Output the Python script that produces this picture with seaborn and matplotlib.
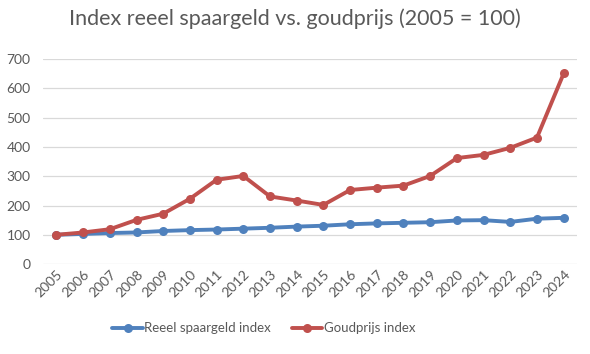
import pandas as pd
import matplotlib
matplotlib.use("Agg")
import matplotlib.pyplot as plt
import seaborn as sns

years = [str(y) for y in range(2005, 2025)]
spaargeld = [100, 103, 106, 108, 113, 116, 118, 121, 124, 128,
             131, 136, 139, 141, 143, 149, 150, 144, 155, 158]
goud = [100, 108, 119, 151, 172, 223, 288, 301, 231, 217,
        202, 253, 261, 268, 301, 362, 373, 397, 432, 651]
series_names = ["Reeel spaargeld index", "Goudprijs index"]
yticks = [0, 100, 200, 300, 400, 500, 600, 700]

df = pd.DataFrame({
    "jaar": years * 2,
    "waarde": spaargeld + goud,
    "reeks": [series_names[0]] * len(years) + [series_names[1]] * len(years),
})

sns.set_style("white")
plt.rcParams["font.family"] = ["Lato", "DejaVu Sans"]
grey = "#595959"

fig = plt.figure(figsize=(5.9, 3.54), dpi=100)
ax = fig.add_axes([0.073, 0.254, 0.905, 0.579])

sns.lineplot(data=df, x="jaar", y="waarde", hue="reeks",
             palette=["#4F81BD", "#C0504D"], linewidth=2.8,
             marker="o", markersize=6.5, markeredgewidth=0, ax=ax)

ax.set_ylim(0, 700)
ax.set_xlim(-0.5, len(years) - 0.5)
ax.set_yticks(yticks)
ax.yaxis.grid(True, color="#D9D9D9", linewidth=0.9)
ax.set_axisbelow(True)
for s in ax.spines.values():
    s.set_visible(False)
ax.tick_params(axis="both", length=0, colors=grey, labelsize=10)
ax.tick_params(axis="y", pad=9)
ax.tick_params(axis="x", pad=3)
plt.setp(ax.get_xticklabels(), rotation=45, ha="right", rotation_mode="anchor")
ax.set_xlabel("")
ax.set_ylabel("")

fig.suptitle("Index reeel spaargeld vs. goudprijs (2005 = 100)",
             x=0.5, y=0.975, fontsize=15.5, color=grey)

handles, labels = ax.get_legend_handles_labels()
ax.get_legend().remove()
fig.legend(handles, labels, loc="center", bbox_to_anchor=(0.447, 0.073), ncol=2,
           frameon=False, fontsize=9.5, labelcolor=grey,
           handlelength=2.3, columnspacing=1.6, handletextpad=0.1)

fig.savefig("out.png", dpi=100)
